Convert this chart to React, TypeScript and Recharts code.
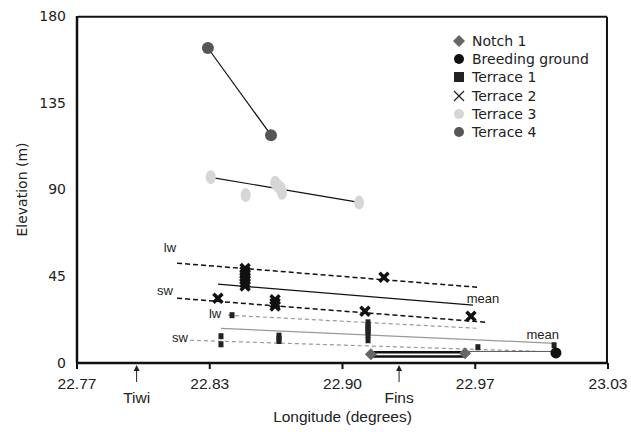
import React from 'react'
import {
  ScatterChart,
  Scatter,
  XAxis,
  YAxis,
  ReferenceLine,
  Legend,
} from 'recharts'

type Pt = { x: number; y: number }
type Seg = { x1: number; y1: number; x2: number; y2: number }
type Tag = { x: number; y: number; text: string }

// observations (longitude, elevation m)
const notch1: Pt[] = [
  { x: 22.9139, y: 4.5 },
  { x: 22.96, y: 5.0 },
]
const breedingGround: Pt[] = [{ x: 23.0045, y: 5.2 }]
const terrace1: Pt[] = [
  { x: 22.8405, y: 13.9 },
  { x: 22.8405, y: 9.7 },
  { x: 22.8459, y: 24.8 },
  { x: 22.8689, y: 14.2 },
  { x: 22.8689, y: 12.6 },
  { x: 22.8689, y: 11.4 },
  { x: 22.9125, y: 21.1 },
  { x: 22.9125, y: 19.6 },
  { x: 22.9125, y: 18.4 },
  { x: 22.9125, y: 17.2 },
  { x: 22.9125, y: 16.0 },
  { x: 22.9125, y: 14.4 },
  { x: 22.9125, y: 11.8 },
  { x: 22.9663, y: 8.2 },
  { x: 23.0036, y: 9.2 },
]
const terrace2: Pt[] = [
  { x: 22.8523, y: 49 },
  { x: 22.8523, y: 47.5 },
  { x: 22.8523, y: 46 },
  { x: 22.8523, y: 44.5 },
  { x: 22.8523, y: 43 },
  { x: 22.8523, y: 41.5 },
  { x: 22.8523, y: 40 },
  { x: 22.9203, y: 44.5 },
  { x: 22.839, y: 33.6 },
  { x: 22.867, y: 32.8 },
  { x: 22.867, y: 31.0 },
  { x: 22.867, y: 29.6 },
  { x: 22.911, y: 26.8 },
  { x: 22.9629, y: 24.2 },
]
const terrace3: Pt[] = [
  { x: 22.8355, y: 96.4 },
  { x: 22.8526, y: 87.1 },
  { x: 22.867, y: 93.5 },
  { x: 22.8684, y: 91.8 },
  { x: 22.8697, y: 90.5 },
  { x: 22.8704, y: 88.3 },
  { x: 22.9081, y: 83.2 },
]
const terrace4: Pt[] = [
  { x: 22.8341, y: 163.4 },
  { x: 22.865, y: 118.2 },
]

// fitted lines
const solidBlack: Seg[] = [
  { x1: 22.8341, y1: 163.4, x2: 22.865, y2: 118.2 },
  { x1: 22.8355, y1: 96.3, x2: 22.9081, y2: 83.3 },
  { x1: 22.839, y1: 40.9, x2: 22.9639, y2: 30.0 },
]
const dashedBlack: Seg[] = [
  { x1: 22.819, y1: 51.8, x2: 22.9659, y2: 39.3 },
  { x1: 22.819, y1: 33.6, x2: 22.9708, y2: 21.1 },
]
const solidGrey: Seg[] = [{ x1: 22.8405, y1: 18.0, x2: 23.004, y2: 10.2 }]
const dashedGrey: Seg[] = [
  { x1: 22.8439, y1: 24.8, x2: 22.9663, y2: 18.0 },
  { x1: 22.8253, y1: 11.8, x2: 22.9943, y2: 6.1 },
]
const notchLines: Seg[] = [
  { x1: 22.9139, y1: 5.6, x2: 22.96, y2: 5.6 },
  { x1: 22.9139, y1: 3.4, x2: 22.96, y2: 3.4 },
]
const thinLink: Seg[] = [{ x1: 22.96, y1: 6.0, x2: 23.0045, y2: 6.0 }]

// top and right edges of the plot box, just inside the domain
const frame: Seg[] = [
  { x1: 22.7705, y1: 179.6, x2: 23.0295, y2: 179.6 },
  { x1: 23.0295, y1: 0.2, x2: 23.0295, y2: 179.6 },
]

const lineTags: Tag[] = [
  { x: 22.8155, y: 60.1, text: 'lw' },
  { x: 22.8131, y: 37.7, text: 'sw' },
  { x: 22.9688, y: 33.6, text: 'mean' },
  { x: 22.8376, y: 25.8, text: 'lw' },
  { x: 22.8204, y: 13.3, text: 'sw' },
  { x: 22.998, y: 14.9, text: 'mean' },
]

const lonDomain = [22.77, 23.03]
const elevDomain = [0, 180]
const xTicks = [22.77, 22.835, 22.9, 22.965, 23.03]
const xTickLabels = ['22.77', '22.83', '22.90', '22.97', '23.03']
const places = [
  { lon: 22.7992, name: 'Tiwi' },
  { lon: 22.9277, name: 'Fins' },
]
const yTicks = [0, 45, 90, 135, 180]

const legendItems = [
  { name: 'Notch 1', kind: 'diamond', color: '#666' },
  { name: 'Breeding ground', kind: 'circle', color: '#111' },
  { name: 'Terrace 1', kind: 'square', color: '#222' },
  { name: 'Terrace 2', kind: 'cross', color: '#222' },
  { name: 'Terrace 3', kind: 'circle', color: '#d6d6d6' },
  { name: 'Terrace 4', kind: 'circle', color: '#555' },
]

const ARIAL = 'Liberation Sans, Arial, sans-serif'
const VERDANA = 'DejaVu Sans, Verdana, sans-serif'

const Diamond = (p: any) => (
  <path d={`M${p.cx},${p.cy - 6} L${p.cx + 6},${p.cy} L${p.cx},${p.cy + 6} L${p.cx - 6},${p.cy} Z`} fill="#666" />
)
const Dot = (fill: string, r: number) => (p: any) => <circle cx={p.cx} cy={p.cy} r={r} fill={fill} />
const Square = (p: any) => <rect x={p.cx - 2.5} y={p.cy - 3} width={5} height={6} fill="#222" />
const BoldX = (p: any) => (
  <g stroke="#111" strokeWidth={3.5}>
    <line x1={p.cx - 4.5} y1={p.cy - 4.5} x2={p.cx + 4.5} y2={p.cy + 4.5} />
    <line x1={p.cx - 4.5} y1={p.cy + 4.5} x2={p.cx + 4.5} y2={p.cy - 4.5} />
  </g>
)
const Blob = (p: any) => <ellipse cx={p.cx} cy={p.cy} rx={5} ry={7} fill="#d6d6d6" />
const TagText = (p: any) => (
  <text x={p.cx} y={p.cy} textAnchor="middle" dominantBaseline="central" fontSize={13} fontFamily={ARIAL} fill="#222">
    {p.payload.text}
  </text>
)

function XTick(props: any) {
  const { x, y, payload } = props
  const v = payload.value
  const place = places.find((p) => p.lon === v)
  if (place) {
    return (
      <g>
        <line x1={x} y1={y + 19} x2={x} y2={y + 5} stroke="#222" strokeWidth={1} />
        <path d={`M${x - 3},${y + 8} L${x},${y + 2} L${x + 3},${y + 8} Z`} fill="#222" />
        <text x={x} y={y + 40} textAnchor="middle" fontSize={15.5} fontFamily={ARIAL} fill="#222">
          {place.name}
        </text>
      </g>
    )
  }
  const i = xTicks.indexOf(v)
  return (
    <g>
      <line x1={x} y1={y} x2={x} y2={y + 6} stroke="#111" strokeWidth={2} />
      <text x={x} y={y + 26} textAnchor="middle" fontSize={15.5} fontFamily={ARIAL} fill="#222">
        {i >= 0 ? xTickLabels[i] : v}
      </text>
    </g>
  )
}

function LegendMarker({ kind, color }: { kind: string; color: string }) {
  return (
    <svg width={14} height={14} style={{ display: 'block' }}>
      {kind === 'diamond' && <path d="M7,1 L13,7 L7,13 L1,7 Z" fill={color} />}
      {kind === 'circle' && <circle cx={7} cy={7} r={5} fill={color} />}
      {kind === 'square' && <rect x={2} y={2} width={10} height={10} fill={color} />}
      {kind === 'cross' && (
        <g stroke={color} strokeWidth={1.2}>
          <line x1={2} y1={2} x2={12} y2={12} />
          <line x1={2} y1={12} x2={12} y2={2} />
        </g>
      )}
    </svg>
  )
}

function LegendBox() {
  return (
    <div style={{ fontFamily: VERDANA, fontSize: 14, color: '#222' }}>
      {legendItems.map((it) => (
        <div key={it.name} style={{ display: 'flex', alignItems: 'center', height: 18.2 }}>
          <LegendMarker kind={it.kind} color={it.color} />
          <span style={{ marginLeft: 6, whiteSpace: 'nowrap' }}>{it.name}</span>
        </div>
      ))}
    </div>
  )
}

export default function App() {
  const allXTicks = [...xTicks, ...places.map((p) => p.lon)]
  return (
    <div style={{ position: 'absolute', left: 0, top: 0, width: 631, height: 432, background: '#fff' }}>
      <ScatterChart width={631} height={432} margin={{ top: 16, right: 23, bottom: 0, left: 0 }}>
        <XAxis
          type="number"
          dataKey="x"
          domain={lonDomain}
          ticks={allXTicks}
          interval={0}
          tick={<XTick />}
          tickLine={false}
          tickSize={0}
          tickMargin={0}
          height={69}
          axisLine={{ stroke: '#111', strokeWidth: 2.5 }}
          label={(p: any) => {
            const vb = p.viewBox
            return (
              <text x={vb.x + vb.width / 2} y={422} textAnchor="middle" fontSize={15.5} fontFamily={ARIAL} fill="#222">
                Longitude (degrees)
              </text>
            )
          }}
        />
        <YAxis
          type="number"
          dataKey="y"
          domain={elevDomain}
          ticks={yTicks}
          interval={0}
          width={77}
          tickLine={false}
          tickSize={6}
          tickMargin={5}
          axisLine={{ stroke: '#111', strokeWidth: 2.5 }}
          tick={{ fontSize: 14, fontFamily: VERDANA, fill: '#222' }}
          label={(p: any) => {
            const vb = p.viewBox
            const cy = vb.y + vb.height / 2
            return (
              <text x={27} y={cy} transform={`rotate(-90 27 ${cy})`} textAnchor="middle" fontSize={14} fontFamily={VERDANA} fill="#222">
                Elevation (m)
              </text>
            )
          }}
        />
        {frame.map((s, i) => (
          <ReferenceLine key={`fr${i}`} segment={[{ x: s.x1, y: s.y1 }, { x: s.x2, y: s.y2 }]} stroke="#111" strokeWidth={2} />
        ))}
        {solidBlack.map((s, i) => (
          <ReferenceLine key={`sb${i}`} segment={[{ x: s.x1, y: s.y1 }, { x: s.x2, y: s.y2 }]} stroke="#111" strokeWidth={1.2} />
        ))}
        {dashedBlack.map((s, i) => (
          <ReferenceLine key={`db${i}`} segment={[{ x: s.x1, y: s.y1 }, { x: s.x2, y: s.y2 }]} stroke="#111" strokeWidth={1.5} strokeDasharray="5 3" />
        ))}
        {solidGrey.map((s, i) => (
          <ReferenceLine key={`sg${i}`} segment={[{ x: s.x1, y: s.y1 }, { x: s.x2, y: s.y2 }]} stroke="#999" strokeWidth={1.2} />
        ))}
        {dashedGrey.map((s, i) => (
          <ReferenceLine key={`dg${i}`} segment={[{ x: s.x1, y: s.y1 }, { x: s.x2, y: s.y2 }]} stroke="#999" strokeWidth={1.2} strokeDasharray="4 3" />
        ))}
        {notchLines.map((s, i) => (
          <ReferenceLine key={`nl${i}`} segment={[{ x: s.x1, y: s.y1 }, { x: s.x2, y: s.y2 }]} stroke="#111" strokeWidth={2.5} />
        ))}
        {thinLink.map((s, i) => (
          <ReferenceLine key={`tl${i}`} segment={[{ x: s.x1, y: s.y1 }, { x: s.x2, y: s.y2 }]} stroke="#555" strokeWidth={1} />
        ))}
        <Scatter name="Terrace 3" data={terrace3} shape={Blob} isAnimationActive={false} />
        <Scatter name="Terrace 4" data={terrace4} shape={Dot('#555', 6)} isAnimationActive={false} />
        <Scatter name="Terrace 1" data={terrace1} shape={Square} isAnimationActive={false} />
        <Scatter name="Terrace 2" data={terrace2} shape={BoldX} isAnimationActive={false} />
        <Scatter name="Notch 1" data={notch1} shape={Diamond} isAnimationActive={false} />
        <Scatter name="Breeding ground" data={breedingGround} shape={Dot('#111', 5.5)} isAnimationActive={false} />
        <Scatter name="labels" data={lineTags} shape={TagText} isAnimationActive={false} legendType="none" />
        <Legend
          layout="horizontal"
          verticalAlign="middle"
          align="center"
          content={() => <LegendBox />}
          wrapperStyle={{ top: 32, left: 452, width: 170 }}
        />
      </ScatterChart>
    </div>
  )
}
